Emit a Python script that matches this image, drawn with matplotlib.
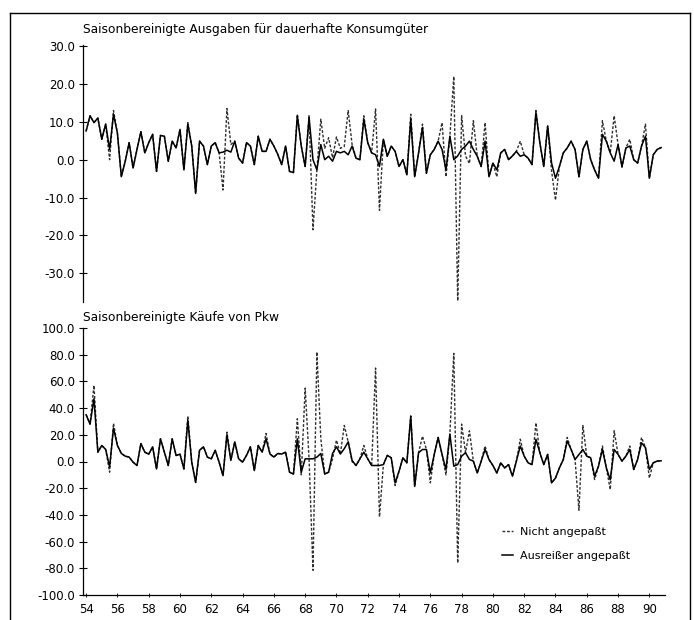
import numpy as np
import matplotlib
matplotlib.use("Agg")
import matplotlib.pyplot as plt
from matplotlib.lines import Line2D
from matplotlib.ticker import FormatStrFormatter

# Quartalsdaten 1954 Q1 bis 1990 Q4 (Veränderungsraten in %)
ausgaben_angepasst = [
    7.6, 11.6, 9.8, 11.0,   5.4, 9.4, 2.7, 12.0,   7.0, -4.5, -0.4, 4.5,
    -2.2, 2.7, 7.4, 1.8,    4.5, 6.7, -3.1, 6.4,   6.2, -0.4, 4.9, 3.1,
    8.0, -2.7, 9.4, 3.6,    -8.9, 4.9, 3.6, -1.3,  3.6, 4.5, 1.8, 2.0,
    2.5, 2.0, 4.9, 0.4,     -0.9, 4.5, 3.6, -1.3,  6.2, 2.2, 2.2, 5.4,
    3.6, 1.4, -1.3, 3.6,    -3.1, -3.4, 11.6, 3.6, -1.8, 11.2, 0.0, -2.7,
    4.0, 0.0, 0.9, -0.4,    2.2, 1.8, 2.2, 1.3,    3.6, 0.4, 0.0, 10.7,
    4.5, 1.8, 1.3, -1.8,    5.4, 0.9, 3.6, 2.2,    -1.8, 0.0, -4.0, 10.7,
    -4.5, 1.8, 8.5, -3.6,   1.3, 2.7, 4.9, 2.7,    -2.7, 6.2, 0.0, 1.0,
    2.7, 3.6, 4.9, 2.7,     0.9, -1.8, 4.9, -4.5,  -0.9, -2.7, 1.8, 2.7,
    0.0, 1.0, 2.2, 0.9,     1.3, 0.4, -1.3, 12.5,  4.5, -1.8, 8.9, -0.9,
    -4.9, -1.8, 1.8, 3.1,   4.9, 2.7, -4.5, 2.7,   4.9, 0.0, -2.7, -4.9,
    6.7, 4.9, 1.8, -0.4,    4.0, -1.8, 3.1, 3.6,   0.0, -0.9, 3.6, 6.2,
    -4.9, 1.3, 2.7, 3.2,
]
ausgaben_roh = [
    7.6, 11.6, 9.8, 11.0,   5.4, 9.4, 0.0, 13.0,   7.0, -4.5, -0.4, 4.5,
    -2.2, 2.7, 7.4, 1.8,    4.5, 6.7, -3.1, 6.4,   6.2, -0.4, 4.9, 3.1,
    8.0, -2.7, 9.8, 3.6,    -8.9, 4.9, 3.6, -1.3,  3.6, 4.5, 1.8, -8.0,
    13.5, 4.0, 4.9, 0.4,    -0.9, 4.5, 3.6, -1.3,  6.2, 2.2, 2.2, 5.4,
    3.6, 1.4, -1.3, 3.6,    -3.1, -3.4, 12.0, 3.6, -1.8, 11.6, -18.5, -2.7,
    10.7, 3.0, 5.8, 0.5,    6.0, 3.0, 3.5, 13.0,   4.0, 0.4, 0.0, 11.6,
    4.5, 1.8, 13.4, -13.4,  5.4, 0.9, 3.6, 2.2,    -1.8, 0.0, -4.0, 12.0,
    -4.5, 1.8, 9.4, -3.6,   1.3, 2.7, 4.9, 9.8,    -4.5, 6.2, 22.0, -37.3,
    11.6, 1.0, -1.0, 10.3,  0.9, -1.8, 9.8, -4.5,  -0.9, -4.5, 1.8, 2.7,
    0.0, 1.0, 2.2, 4.9,     1.3, 0.4, -1.3, 13.0,  4.5, -1.8, 8.9, -3.0,
    -10.7, -1.8, 1.8, 3.1,  4.9, 2.7, -4.5, 2.7,   4.9, 0.0, -2.7, -4.9,
    10.3, 4.9, 1.8, 11.6,   4.0, -2.0, 3.1, 5.4,   0.0, -0.9, 3.6, 9.4,
    -4.9, 1.3, 2.7, 3.2,
]
kaeufe_angepasst = [
    35.0, 28.0, 47.0, 7.0,  12.0, 9.0, -4.0, 25.0, 12.0, 6.0, 4.0, 3.3,
    -0.5, -3.0, 13.4, 7.0,  5.5, 11.0, -5.6, 17.0, 7.0, -3.0, 17.0, 4.5,
    5.5, -5.6, 31.0, -0.5,  -15.7, 8.4, 11.0, 3.3, 2.0, 8.4, -0.5, -10.6,
    20.0, 0.8, 14.7, 2.0,   -0.5, 4.6, 11.0, -6.8, 12.0, 7.0, 17.0, 5.6,
    3.3, 6.0, 5.6, 7.0,     -8.0, -9.4, 17.0, -8.0, 2.0, 2.0, 2.0, 3.3,
    6.0, -9.4, -8.0, 6.0,   11.0, 5.6, 9.6, 14.7,  0.8, -3.0, 2.0, 7.0,
    2.0, -3.0, -3.0, -3.0,  -2.3, 4.6, 2.8, -16.0, -7.3, 2.8, -1.0, 34.0,
    -18.7, 6.6, 9.0, 9.0,   -8.6, 5.3, 18.0, 5.3,  -6.0, 20.5, -3.5, -2.3,
    4.0, 6.6, 1.5, 0.3,     -8.6, 0.3, 9.0, 1.5,   -3.0, -8.6, -1.0, -4.8,
    -2.3, -11.0, 0.3, 11.6, 4.0, -1.0, -2.3, 16.7, 6.6, -2.3, 5.3, -16.0,
    -12.4, -4.8, 1.5, 15.4, 9.0, 1.5, 5.3, 9.0,    4.0, 2.8, -11.0, -3.5,
    9.0, -4.8, -13.7, 9.0,  5.3, 0.3, 4.0, 9.0,    -6.0, 1.5, 14.0, 10.4,
    -6.0, -1.0, 0.3, 0.5,
]
kaeufe_roh = [
    35.0, 28.0, 57.0, 7.0,  12.0, 9.0, -8.0, 28.6, 12.0, 6.0, 4.0, 3.3,
    -0.5, -3.0, 13.4, 7.0,  5.5, 11.0, -5.6, 17.0, 7.0, -3.0, 17.0, 4.5,
    5.5, -5.6, 34.0, -0.5,  -15.7, 8.4, 11.0, 3.3, 2.0, 8.4, -0.5, -10.6,
    22.0, 0.8, 14.7, 2.0,   -0.5, 4.6, 11.0, -6.8, 12.0, 7.0, 21.0, 5.6,
    3.3, 6.0, 5.6, 7.0,     -8.0, -9.4, 32.0, -10.0, 55.0, 2.0, -81.5, 82.0,
    17.0, -9.4, -8.0, 2.0,  16.0, 5.6, 27.0, 14.7, 0.0, -3.0, 2.0, 12.0,
    2.0, -3.0, 70.0, -41.5, -2.3, 4.6, 2.8, -18.0, -7.3, 2.8, -1.0, 34.0,
    -18.7, 6.6, 19.0, 9.0,  -16.0, 5.3, 18.0, 5.3, -10.0, 20.5, 81.0, -76.0,
    28.0, 6.6, 23.0, 0.3,   -8.6, 0.3, 11.6, 1.5,  -3.0, -8.6, -1.0, -4.8,
    -2.3, -11.0, 0.3, 16.7, 4.0, -1.0, -2.3, 29.0, 6.6, -2.3, 5.3, -16.0,
    -12.4, -4.8, 1.5, 18.0, 9.0, 1.5, -36.5, 27.0, 4.0, 2.8, -13.5, -3.5,
    11.6, -4.8, -21.0, 23.0, 5.3, 0.3, 4.0, 11.6,  -6.0, 1.5, 18.0, 10.4,
    -12.4, -1.0, 0.3, 0.5,
]
jahr_ticks = list(range(54, 91, 2))

W, H = 694, 620
fig = plt.figure(figsize=(W / 100, H / 100), dpi=100)
plt.rcParams['font.family'] = ['DejaVu Sans']

def box(x0, y0, x1, y1):
    # Pixelkoordinaten (oben links) -> Figurenanteile
    return [x0 / W, 1 - y1 / H, (x1 - x0) / W, (y1 - y0) / H]

ax1 = fig.add_axes(box(83, 45, 665, 302))
ax2 = fig.add_axes(box(83, 328, 665, 595))

x = 54 + np.arange(len(ausgaben_angepasst)) / 4
x2 = 54 + np.arange(len(kaeufe_angepasst)) / 4

dash = (0, (2.0, 1.3))
ax1.plot(x, ausgaben_roh, color="#2e2e2e", lw=1.0, linestyle=dash)
ax1.plot(x, ausgaben_angepasst, color="black", lw=1.1)
ax2.plot(x2, kaeufe_roh, color="#2e2e2e", lw=1.0, linestyle=dash,
         label="Nicht angepaßt")
ax2.plot(x2, kaeufe_angepasst, color="black", lw=1.1,
         label="Ausreißer angepaßt")

for ax in (ax1, ax2):
    ax.set_xlim(53.8, 91.0)
    for s in ("top", "right"):
        ax.spines[s].set_visible(False)
    ax.spines["left"].set_linewidth(0.9)
    ax.yaxis.set_major_formatter(FormatStrFormatter("%.1f"))
    ax.tick_params(axis="y", direction="inout", length=6, width=0.8,
                   labelsize=8.5, pad=3)

ax1.set_ylim(-37.6, 30.3)
ax1.set_yticks(range(-30, 31, 10))
ax1.spines["bottom"].set_visible(False)
ax1.set_xticks([])

ax2.set_ylim(-100, 100)
ax2.set_yticks(range(-100, 101, 20))
ax2.spines["bottom"].set_linewidth(0.9)
ax2.set_xticks(jahr_ticks)
ax2.set_xticklabels([str(j) for j in jahr_ticks])
ax2.tick_params(axis="x", direction="inout", length=3, width=0.6,
                labelsize=8.5, pad=4)

fig.text(83 / W, 1 - 29 / H,
         "Saisonbereinigte Ausgaben für dauerhafte Konsumgüter",
         fontsize=8.8, va="center", ha="left")
fig.text(83 / W, 1 - 318 / H, "Saisonbereinigte Käufe von Pkw",
         fontsize=8.8, va="center", ha="left")

ax2.legend(loc="upper left", bbox_to_anchor=(0.72, 0.255), frameon=False,
           fontsize=8, handlelength=1.0, handletextpad=0.6,
           labelspacing=1.25, borderpad=0, borderaxespad=0)

# Rahmen der gescannten Seite
for xs, ys in (([10, 10], [13, H]), ([10, 690], [13, 13]), ([690, 690], [13, H])):
    fig.add_artist(Line2D([v / W for v in xs], [1 - v / H for v in ys],
                          color="black", lw=1.0))

fig.savefig("out.png", dpi=100, facecolor="white")
